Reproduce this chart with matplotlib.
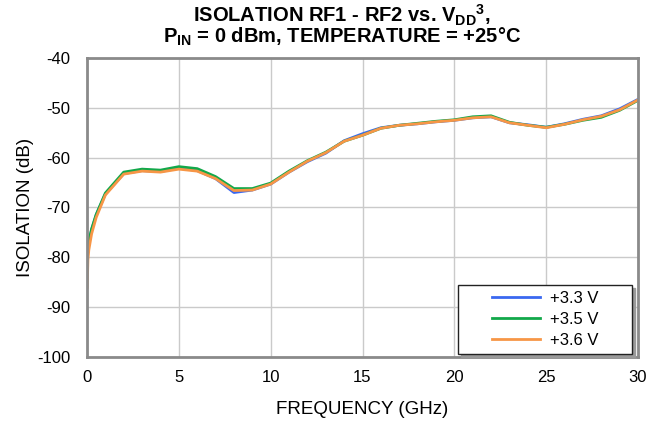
import matplotlib
matplotlib.use("Agg")
import matplotlib.pyplot as plt
from matplotlib.legend_handler import HandlerLine2D
from matplotlib.lines import Line2D
import numpy as np

plt.rcParams['font.family'] = ['Liberation Sans', 'DejaVu Sans']
plt.rcParams['mathtext.default'] = 'regular'
plt.rcParams['axes.unicode_minus'] = False

# frequency points (GHz)
freq = [0.01, 0.05, 0.1, 0.25, 0.5, 1, 2, 3, 4, 5, 6, 7, 8, 9, 10,
        11, 12, 13, 14, 15, 16, 17, 18, 19, 20, 21, 22, 23, 24, 25,
        26, 27, 28, 29, 30]

iso_33 = [-79.5, -78.3, -77.0, -74.5, -71.5, -67.3, -63.2, -62.6, -62.8, -62.1, -62.6,
          -64.2, -67.0, -66.5, -65.3, -62.9, -60.8, -59.1, -56.6, -55.2, -54.0,
          -53.5, -53.2, -52.8, -52.5, -52.0, -51.8, -53.0, -53.4, -53.9,
          -53.2, -52.3, -51.6, -50.2, -48.3]
iso_35 = [-79.0, -78.0, -76.8, -74.3, -71.4, -67.1, -62.9, -62.3, -62.5, -61.8, -62.2,
          -63.8, -66.2, -66.2, -65.1, -62.7, -60.6, -58.9, -56.7, -55.5, -54.1,
          -53.5, -53.1, -52.7, -52.4, -51.8, -51.6, -52.9, -53.5, -53.9,
          -53.3, -52.5, -51.9, -50.5, -48.5]
iso_36 = [-86.0, -80.5, -78.5, -75.3, -72.0, -67.5, -63.3, -62.7, -62.9, -62.3, -62.7,
          -64.2, -66.6, -66.5, -65.3, -62.9, -60.7, -59.0, -56.7, -55.5, -54.1,
          -53.5, -53.2, -52.8, -52.5, -52.0, -51.8, -53.0, -53.5, -54.0,
          -53.3, -52.4, -51.7, -50.4, -48.4]

labels = ['+3.3 V', '+3.5 V', '+3.6 V']
colors = ['#3A68F0', '#12A84A', '#F79646']


class ShiftedLine(HandlerLine2D):
    # legend line drawn only over the right part of the handle area
    def create_artists(self, legend, orig_handle, xdescent, ydescent,
                       width, height, fontsize, trans):
        arts = super().create_artists(legend, orig_handle, xdescent, ydescent,
                                      width, height, fontsize, trans)
        for a in arts:
            xd = np.asarray(a.get_xdata(), float)
            yd = np.asarray(a.get_ydata(), float)
            a.set_data([xd.max() - 48 * 72 / 100, xd.max()], [yd[0], yd[0]])
        return arts


fig = plt.figure(figsize=(6.64, 4.25), dpi=100)
ax = fig.add_axes([87/664, 1-357/425, 551/664, 299/425])

for ys, lab, c in zip([iso_33, iso_35, iso_36], labels, colors):
    ax.plot(freq, ys, color=c, lw=2, label=lab)

ax.set_xlim(0, 30)
ax.set_ylim(-100, -40)
ax.set_xticks(np.arange(0, 31, 5))
ax.set_yticks(np.arange(-100, -39, 10))
ax.grid(True, color='#CACACA', lw=1)
ax.set_axisbelow(True)
ax.tick_params(length=0, labelsize=12)
ax.tick_params(axis='x', pad=9)
ax.tick_params(axis='y', pad=12)
for s in ax.spines.values():
    s.set_color('#8A8A8A')
    s.set_linewidth(2)

ax.set_xlabel('FREQUENCY (GHz)', fontsize=13.5, labelpad=12)
ax.set_ylabel('ISOLATION (dB)', fontsize=13.5, labelpad=2)

fig.text(0.515, 1 - 22/425, r'ISOLATION RF1 - RF2 vs. V$_{DD}$$^{3}$,',
         ha='center', va='baseline', fontsize=14.5, fontweight='bold')
fig.text(0.515, 1 - 43/425, r'P$_{IN}$ = 0 dBm, TEMPERATURE = +25°C',
         ha='center', va='baseline', fontsize=14.5, fontweight='bold')

fs_px = 12 * 100 / 72
leg = ax.legend(loc='lower left',
                bbox_to_anchor=((458-87)/551, 0.01, 174/551, 0.24),
                mode='expand', fontsize=12,
                fancybox=False, shadow={'color': '#9A9A9A', 'alpha': 1},
                edgecolor='#222222',
                handlelength=76/fs_px, borderpad=0.35, labelspacing=0.36,
                handletextpad=10/fs_px, borderaxespad=0,
                handler_map={Line2D: ShiftedLine()})
leg.get_frame().set_linewidth(1)

fig.savefig('out.png', dpi=100)
